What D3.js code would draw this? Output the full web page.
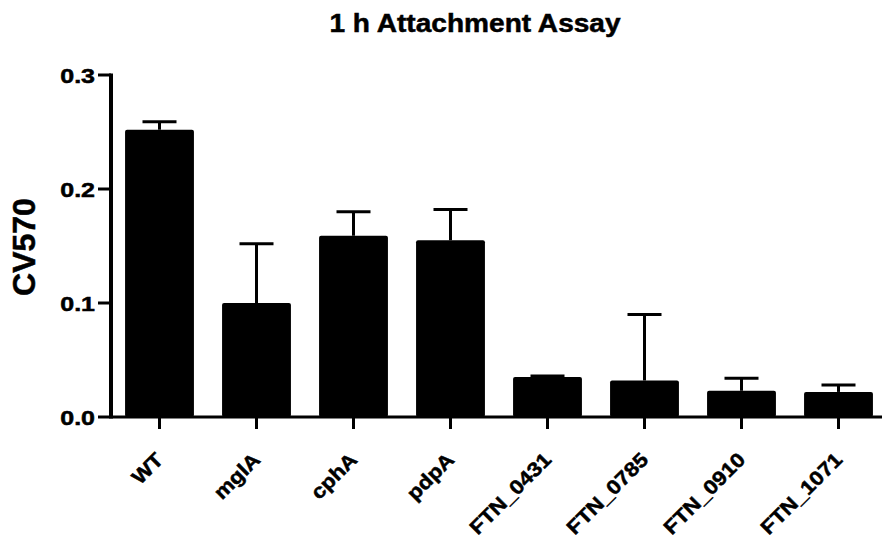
<!DOCTYPE html>
<html>
<head>
<meta charset="utf-8">
<script src="https://cdn.jsdelivr.net/npm/d3@7"></script>
<style>
  body { margin: 0; background: #fff; }
  text { font-family: "Liberation Sans", Arial, sans-serif; font-weight: bold; fill: #000; stroke: #000; stroke-width: 0.5px; }
</style>
</head>
<body>
<div id="chart"></div>
<script>
const strains = ["WT", "mglA", "cphA", "pdpA", "FTN_0431", "FTN_0785", "FTN_0910", "FTN_1071"];
const means = [0.252, 0.100, 0.159, 0.155, 0.035, 0.032, 0.023, 0.022];
const errTops = [0.259, 0.152, 0.180, 0.182, 0.036, 0.090, 0.034, 0.028];
const yTicks = [0.0, 0.1, 0.2, 0.3];

const W = 886, H = 548;
const x0 = 111, x1 = 887, yTop = 75, yBot = 417;

const svg = d3.select("#chart")
  .append("svg")
  .attr("width", W)
  .attr("height", H);

const x = d3.scaleBand()
  .domain(strains)
  .range([x0, x1])
  .paddingInner(0.29)
  .paddingOuter(0.145);

const y = d3.scaleLinear()
  .domain([0, 0.3])
  .range([yBot, yTop]);

// Title
svg.append("text")
  .attr("transform", `translate(475, 32) scale(1.08, 1)`)
  .attr("text-anchor", "middle")
  .attr("font-size", 26)
  .text("1 h Attachment Assay");

// Y axis label
svg.append("text")
  .attr("transform", `translate(35, 247) rotate(-90)`)
  .attr("text-anchor", "middle")
  .attr("font-size", 32)
  .text("CV570");

// Bars
svg.selectAll(".bar")
  .data(strains)
  .enter()
  .append("rect")
  .attr("class", "bar")
  .attr("x", d => x(d))
  .attr("y", (d, i) => y(means[i]))
  .attr("width", x.bandwidth())
  .attr("height", (d, i) => yBot - y(means[i]))
  .attr("rx", 2)
  .attr("fill", "#000");

// Error bars (upper only)
const err = svg.selectAll(".err")
  .data(strains)
  .enter()
  .append("g")
  .attr("class", "err")
  .attr("stroke", "#000")
  .attr("stroke-width", 3);

err.append("line")
  .attr("x1", d => x(d) + x.bandwidth() / 2)
  .attr("x2", d => x(d) + x.bandwidth() / 2)
  .attr("y1", (d, i) => y(means[i]))
  .attr("y2", (d, i) => y(errTops[i]));

err.append("line")
  .attr("x1", d => x(d) + x.bandwidth() / 2 - 17)
  .attr("x2", d => x(d) + x.bandwidth() / 2 + 17)
  .attr("y1", (d, i) => y(errTops[i]))
  .attr("y2", (d, i) => y(errTops[i]));

// Y axis
const yAxis = svg.append("g");
yAxis.append("line")
  .attr("x1", x0).attr("x2", x0)
  .attr("y1", y(0.3) - 1.5).attr("y2", yBot + 1.5)
  .attr("stroke", "#000").attr("stroke-width", 4);

yAxis.selectAll(".ytick")
  .data(yTicks)
  .enter()
  .append("line")
  .attr("x1", x0 - 13).attr("x2", x0)
  .attr("y1", d => y(d)).attr("y2", d => y(d))
  .attr("stroke", "#000").attr("stroke-width", 3);

yAxis.selectAll(".ylab")
  .data(yTicks)
  .enter()
  .append("text")
  .attr("transform", d => `translate(${x0 - 16}, ${y(d) + 8}) scale(1.25, 1)`)
  .attr("text-anchor", "end")
  .attr("font-size", 20)
  .text(d => d3.format(".1f")(d));

// X axis
const xAxis = svg.append("g");
xAxis.append("line")
  .attr("x1", x0).attr("x2", 882)
  .attr("y1", yBot).attr("y2", yBot)
  .attr("stroke", "#000").attr("stroke-width", 3);

xAxis.selectAll(".xtick")
  .data(strains)
  .enter()
  .append("line")
  .attr("x1", d => x(d) + x.bandwidth() / 2)
  .attr("x2", d => x(d) + x.bandwidth() / 2)
  .attr("y1", yBot).attr("y2", yBot + 12)
  .attr("stroke", "#000").attr("stroke-width", 3);

xAxis.selectAll(".xlab")
  .data(strains)
  .enter()
  .append("text")
  .attr("transform", d => `translate(${x(d) + x.bandwidth() / 2 + 5}, 461) rotate(-45) scale(1.12, 1)`)
  .attr("text-anchor", "end")
  .attr("font-size", 20)
  .text(d => d);
</script>
</body>
</html>
